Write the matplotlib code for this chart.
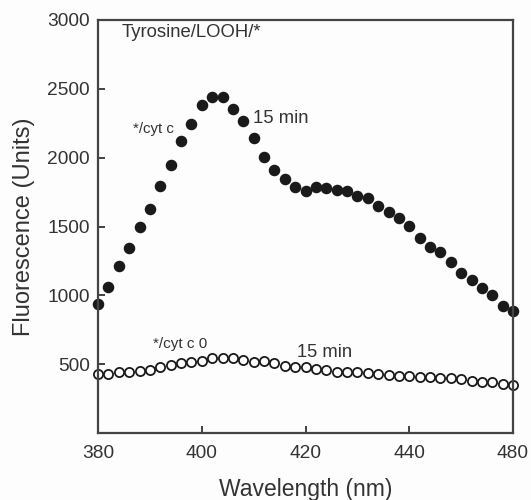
import matplotlib
matplotlib.use("Agg")
import matplotlib.pyplot as plt
import numpy as np

# wavelength steps (2 nm spacing, 41 points)
wavelength = np.arange(380, 461, 2)

# filled circles: */cyt c, 15 min
cytc_15 = [934, 1062, 1212, 1341, 1498, 1628, 1793, 1946, 2122, 2248,
           2386, 2439, 2439, 2357, 2267, 2140, 2004, 1909, 1842, 1788,
           1759, 1788, 1781, 1764, 1757, 1723, 1708, 1652, 1607, 1559,
           1503, 1418, 1353, 1312, 1244, 1164, 1111, 1055, 1002, 924, 888]

# open circles: */cyt c 0, 15 min
cytc0_15 = [426, 428, 441, 441, 448, 457, 477, 494, 506, 515,
            525, 542, 542, 542, 530, 518, 520, 506, 489, 477,
            477, 465, 457, 445, 441, 445, 438, 428, 419, 414,
            414, 409, 409, 401, 397, 390, 380, 372, 368, 356, 348]

xtick_pos = [380, 400, 420, 440, 460]
xtick_labels = ["380", "400", "420", "440", "480"]  # as printed on the original axis
ytick_pos = [500, 1000, 1500, 2000, 2500, 3000]

plt.rcParams['font.family'] = ['Liberation Sans', 'DejaVu Sans']
txt = "#333333"

fig = plt.figure(figsize=(5.31, 5.0), dpi=100)
fig.patch.set_facecolor("#fdfdfd")
ax = fig.add_axes([0.1846, 0.134, 0.7815, 0.826])
ax.set_facecolor("#fdfdfd")

ax.plot(wavelength, cytc_15, "o", color="#1a1a1a", markersize=7.3, clip_on=False)
ax.plot(wavelength, cytc0_15, "o", markerfacecolor="white", markeredgecolor="#1a1a1a",
        markersize=6.6, markeredgewidth=1.3, clip_on=False)

ax.set_xlim(380, 460)
ax.set_ylim(0, 3000)
ax.set_xticks(xtick_pos)
ax.set_xticklabels(xtick_labels)
ax.set_yticks(ytick_pos)
ax.tick_params(direction="in", length=5, width=1.3, labelsize=13.8, colors=txt)
ax.tick_params(axis="x", pad=9)
ax.tick_params(axis="y", pad=6)

for s in ax.spines.values():
    s.set_linewidth(1.6)
    s.set_color("#444444")

ax.set_xlabel("Wavelength (nm)", fontsize=16.5, color=txt, labelpad=11)
ax.set_ylabel("Fluorescence (Units)", fontsize=17, color=txt, labelpad=9)

ax.text(384.6, 2906, "Tyrosine/LOOH/*", fontsize=13.3, color=txt, ha="left", va="center")
ax.text(409.9, 2288, "15 min", fontsize=13.3, color=txt, ha="left", va="center")
ax.text(386.7, 2205, "*/cyt c", fontsize=10.8, color=txt, ha="left", va="center")
ax.text(390.6, 646, "*/cyt c 0", fontsize=11, color=txt, ha="left", va="center")
ax.text(418.4, 588, "15 min", fontsize=13.2, color=txt, ha="left", va="center")

fig.savefig("out.png", dpi=100, facecolor=fig.get_facecolor())
